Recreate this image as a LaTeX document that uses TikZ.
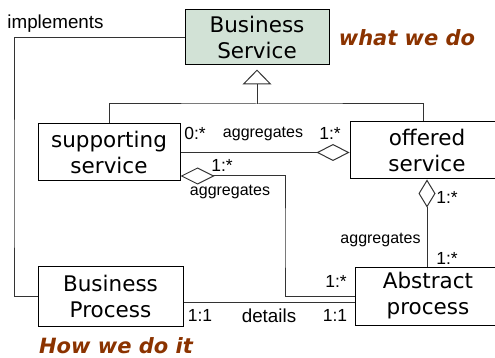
\documentclass[tikz,border=0pt]{standalone}
\usepackage{fontspec}
\setmainfont{Liberation Sans}
\newfontfamily\boxfont{DejaVu Sans}
\newfontfamily\notefont{DejaVu Sans}
\usetikzlibrary{arrows.meta}
\definecolor{myboxgreen}{HTML}{D2E2D6}
\definecolor{mybrown}{HTML}{8B3300}
\colorlet{mylinegray}{black!80}
\tikzset{
  classbox/.style={draw=black, line width=1pt, fill=white, align=center, inner sep=0pt,
    font=\boxfont\fontsize{21.5}{26}\selectfont},
  lab/.style={inner sep=0pt, font=\fontsize{17.5}{20}\selectfont},
  smalllab/.style={inner sep=0pt, font=\fontsize{16}{18}\selectfont},
  conn/.style={mylinegray, line width=1pt},
  note/.style={mybrown, inner sep=0pt, font=\notefont\bfseries\itshape\fontsize{21}{24}\selectfont},
}

\begin{document}
\begin{tikzpicture}[x=1pt, y=-1pt]
    \useasboundingbox (0,0) rectangle (495,358);
    \clip (0,0) rectangle (495,358);

    % classes
    \node[classbox, fill=myboxgreen, minimum width=144pt, minimum height=55pt] (bs) at (257,37.5) {Business\\Service};
    \node[classbox, minimum width=142pt, minimum height=57pt] (sup) at (109,152.5) {supporting\\service};
    \node[classbox, minimum width=154pt, minimum height=57pt] (off) at (427,150.5) {offered\\service};
    \node[classbox, minimum width=145pt, minimum height=60pt] (bp) at (110.5,296) {Business\\Process};
    \node[classbox, minimum width=146pt, minimum height=58pt] (ap) at (428,296) {Abstract\\process};

    \coordinate (gen) at (257,104);
    \coordinate (implx) at (14,200);
    \coordinate (turn) at (285,240);

    % generalisation
    \draw[conn, -{Triangle[open, length=15pt, width=29pt]}] (gen) -- ([yshift=-4pt]bs.south);
    \draw[conn] (sup.north) |- (gen) -| ([xshift=-4pt]off.north);

    % implements
    \draw[conn] (bs.west) -| (implx) |- (bp.west);

    % aggregations
    \draw[conn, -{Diamond[open, length=33pt, width=17pt]}] (sup.east) -- (sup.east -| off.west);
    \draw[conn, {Diamond[open, length=34pt, width=17pt]}-] ([yshift=5.5pt]sup.south east) -| (turn) |- (ap.west);
    \draw[conn, {Diamond[open, length=28pt, width=17pt]}-] (off.south) -- (off.south |- ap.north);

    % details
    \draw[conn] ([yshift=-6pt]bp.east) -- ([yshift=-6pt]bp.east -| ap.west);

    % labels
    \node[lab, font=\fontsize{18.8}{20}\selectfont] (limpl) at (55.5,23.5) {implements};
    \node[lab] (lzero) at (195,133) {0:*};
    \node[smalllab] (lagg1) at (263,134) {aggregates};
    \node[lab] (lone1) at (330,133) {1:*};
    \node[lab] (lone2) at (222,165) {1:*};
    \node[smalllab] (lagg2) at (230,192) {aggregates};
    \node[lab] (lone3) at (447,197) {1:*};
    \node[smalllab] (lagg3) at (380.5,240) {aggregates};
    \node[lab] (lone4) at (447,258) {1:*};
    \node[lab] (lone5) at (336,281) {1:*};
    \node[lab] (lonebp) at (200,315) {1:1};
    \node[lab, font=\fontsize{18.8}{20}\selectfont] (ldet) at (269,316) {details};
    \node[lab] (loneap) at (335,315) {1:1};

    % notes
    \node[note] (what) at (407,38) {what we do};
    \node[note] (how) at (116,346) {How we do it};
\end{tikzpicture}
\end{document}
